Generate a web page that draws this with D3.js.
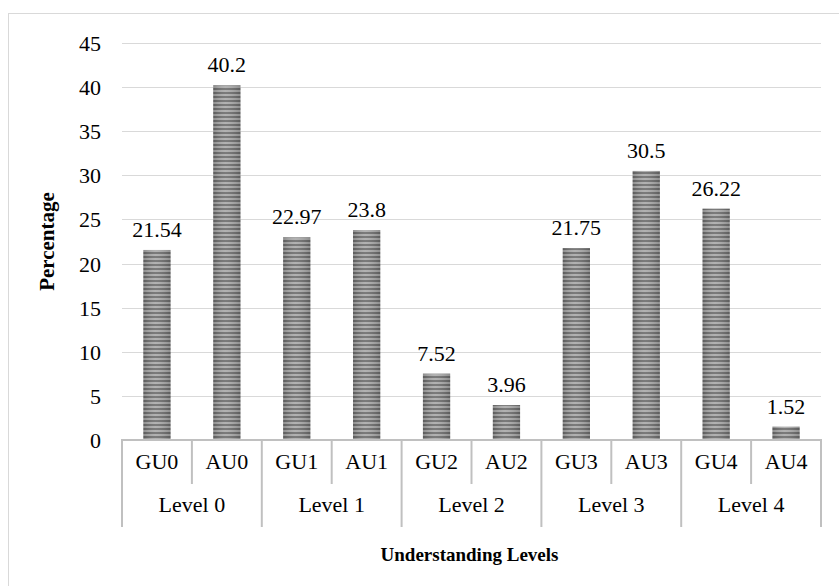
<!DOCTYPE html>
<html>
<head>
<meta charset="utf-8">
<script src="https://cdn.jsdelivr.net/npm/d3@7"></script>
<style>
  html, body { margin: 0; padding: 0; background: #ffffff; }
</style>
</head>
<body>
<script>
// Percentage of students at each understanding level (GU / AU groups)
const categories = ["GU0", "AU0", "GU1", "AU1", "GU2", "AU2", "GU3", "AU3", "GU4", "AU4"];
const values = [21.54, 40.2, 22.97, 23.8, 7.52, 3.96, 21.75, 30.5, 26.22, 1.52];
const groups = ["Level 0", "Level 1", "Level 2", "Level 3", "Level 4"];
const yTicks = [0, 5, 10, 15, 20, 25, 30, 35, 40, 45];

const W = 839, H = 586;
const plot = { left: 122, right: 821, top: 43, bottom: 440 };
const serif = "Liberation Serif";

const svg = d3.select("body").append("svg").attr("width", W).attr("height", H)
  .style("display", "block");

// striped fill for the bars
const defs = svg.append("defs");
const pat = defs.append("pattern")
  .attr("id", "stripes").attr("patternUnits", "userSpaceOnUse")
  .attr("width", 8).attr("height", 4);
pat.append("rect").attr("width", 8).attr("height", 4).attr("fill", "#c4c4c4");
pat.append("rect").attr("y", 0).attr("width", 8).attr("height", 2).attr("fill", "#6f6f6f");
pat.append("rect").attr("y", 2).attr("width", 8).attr("height", 0.6).attr("fill", "#9a9a9a");
pat.append("rect").attr("y", 3.4).attr("width", 8).attr("height", 0.6).attr("fill", "#9a9a9a");

const shade = defs.append("linearGradient").attr("id", "shade")
  .attr("x1", "0").attr("x2", "1").attr("y1", "0").attr("y2", "0");
shade.append("stop").attr("offset", "0").attr("stop-color", "#000").attr("stop-opacity", 0.18);
shade.append("stop").attr("offset", "0.45").attr("stop-color", "#fff").attr("stop-opacity", 0.08);
shade.append("stop").attr("offset", "1").attr("stop-color", "#000").attr("stop-opacity", 0.18);

// outer chart frame
svg.append("rect")
  .attr("x", 8.5).attr("y", 13.5).attr("width", 850).attr("height", 600)
  .attr("fill", "none").attr("stroke", "#d9d9d9").attr("stroke-width", 1);

const x = d3.scaleBand().domain(categories)
  .range([plot.left, plot.right]).paddingInner(0.61).paddingOuter(0.305);
const xStep = d3.scaleBand().domain(categories).range([plot.left, plot.right]).padding(0);
const xGroup = d3.scaleBand().domain(groups).range([plot.left, plot.right]).padding(0);
const y = d3.scaleLinear().domain([0, 45]).range([plot.bottom, plot.top]);

// gridlines
svg.append("g")
  .selectAll("line").data(yTicks.filter(t => t > 0)).join("line")
  .attr("x1", plot.left).attr("x2", plot.right)
  .attr("y1", d => Math.round(y(d)) + 0.5).attr("y2", d => Math.round(y(d)) + 0.5)
  .attr("stroke", "#d9d9d9").attr("stroke-width", 1);

// y axis labels
const yAxis = d3.axisLeft(y).tickValues(yTicks).tickSize(0).tickPadding(0);
const gy = svg.append("g").attr("transform", `translate(${101},0)`).call(yAxis)
  .attr("font-family", serif).attr("font-size", 22);
gy.select(".domain").remove();
gy.selectAll("text").attr("fill", "#000").attr("dy", "0.34em");

// bars
const bars = svg.append("g");
bars.selectAll("rect.bar").data(categories).join("rect").attr("class", "bar")
  .attr("x", d => x(d)).attr("width", x.bandwidth())
  .attr("y", (d, i) => y(values[i])).attr("height", (d, i) => y(0) - y(values[i]))
  .attr("fill", "url(#stripes)");
bars.selectAll("rect.shade").data(categories).join("rect").attr("class", "shade")
  .attr("x", d => x(d)).attr("width", x.bandwidth())
  .attr("y", (d, i) => y(values[i])).attr("height", (d, i) => y(0) - y(values[i]))
  .attr("fill", "url(#shade)");

const label = sel => sel.attr("font-family", serif).attr("font-size", 22)
  .attr("text-anchor", "middle").attr("fill", "#000");

// value labels
svg.append("g").selectAll("text").data(categories).join("text")
  .attr("x", d => x(d) + x.bandwidth() / 2)
  .attr("y", (d, i) => y(values[i]) - 13)
  .call(label)
  .text((d, i) => values[i]);

// category axis: baseline and separators
const axisColor = "#c0c0c0";
svg.append("line")
  .attr("x1", plot.left - 1).attr("x2", plot.right + 1)
  .attr("y1", plot.bottom).attr("y2", plot.bottom)
  .attr("stroke", axisColor).attr("stroke-width", 2);

const levelEdges = groups.map(g => xGroup(g)).concat([plot.right]);
svg.append("g").selectAll("line").data(levelEdges).join("line")
  .attr("x1", d => d).attr("x2", d => d)
  .attr("y1", plot.bottom).attr("y2", 527)
  .attr("stroke", axisColor).attr("stroke-width", 2);

const innerEdges = categories.filter((c, i) => i % 2 === 1).map(c => xStep(c));
svg.append("g").selectAll("line").data(innerEdges).join("line")
  .attr("x1", d => d).attr("x2", d => d)
  .attr("y1", plot.bottom).attr("y2", 484)
  .attr("stroke", axisColor).attr("stroke-width", 2);

// category labels
svg.append("g").selectAll("text").data(categories).join("text")
  .attr("x", d => xStep(d) + xStep.bandwidth() / 2).attr("y", 469)
  .call(label)
  .text(d => d);

svg.append("g").selectAll("text").data(groups).join("text")
  .attr("x", d => xGroup(d) + xGroup.bandwidth() / 2).attr("y", 512)
  .call(label)
  .text(d => d);

// axis titles
svg.append("text")
  .attr("x", (plot.left + plot.right) / 2 - 2).attr("y", 561)
  .call(label).attr("font-size", 19).attr("font-weight", "bold")
  .text("Understanding Levels");

svg.append("text")
  .attr("transform", `translate(54,${(plot.top + plot.bottom) / 2}) rotate(-90)`)
  .call(label).attr("font-size", 21).attr("font-weight", "bold")
  .text("Percentage");
</script>
</body>
</html>
